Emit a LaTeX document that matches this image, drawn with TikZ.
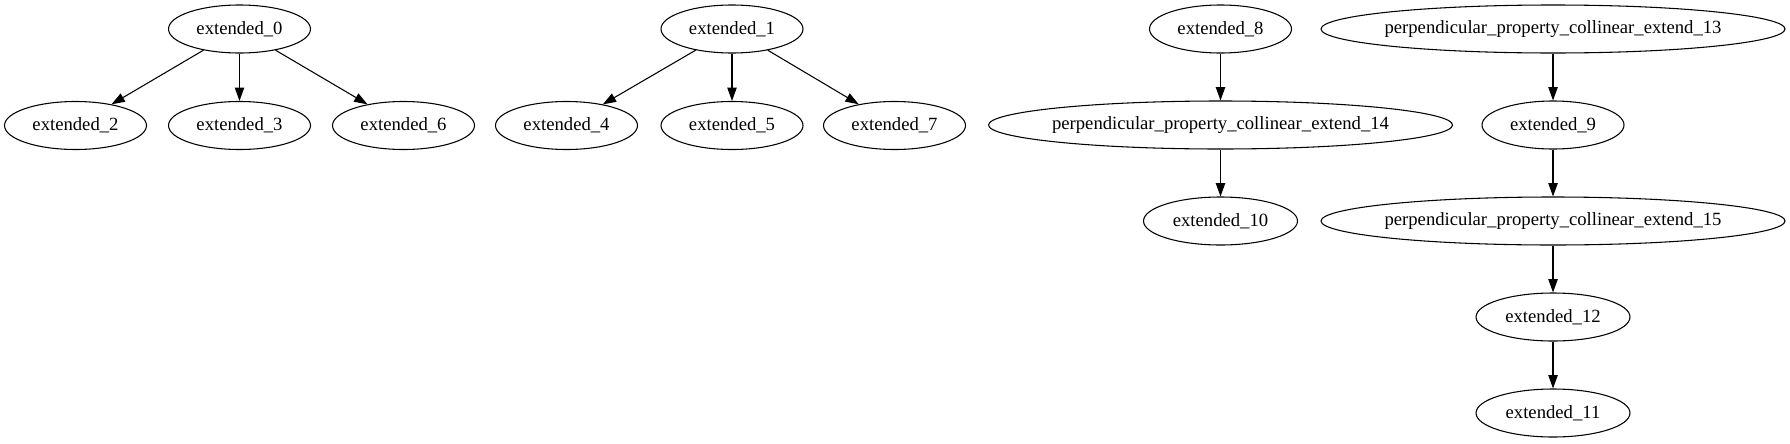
\documentclass[tikz,border=0pt]{standalone}
\usepackage{fontspec}
\setmainfont{Liberation Serif}
\usetikzlibrary{shapes.geometric,arrows.meta}
\tikzset{
  nd/.style={draw, ellipse, line width=0.8pt, inner sep=0pt, minimum height=36pt,
    font=\fontsize{14pt}{16pt}\selectfont},
  sm/.style={nd, minimum width=106.5pt},
  md/.style={nd, minimum width=115.5pt},
  lg/.style={nd, minimum width=348pt},
  edge/.style={line width=0.8pt, -{Triangle[length=10pt,width=7pt]}}
}
\newcommand{\lbl}[1]{\makebox[0pt]{#1}}
\begin{document}
\begin{tikzpicture}[x=0.75pt,y=-0.75pt]
\useasboundingbox (0,0) rectangle (1790,443);
% component 1
\node[sm] (e0) at (239.5,29) {\lbl{extended\_0}};
\node[sm] (e2) at (75.5,125.5) {\lbl{extended\_2}};
\node[sm] (e3) at (239.5,125.5) {\lbl{extended\_3}};
\node[sm] (e6) at (403.5,125.5) {\lbl{extended\_6}};
% component 2
\node[sm] (e1) at (732,29) {\lbl{extended\_1}};
\node[sm] (e4) at (566.5,125.5) {\lbl{extended\_4}};
\node[sm] (e5) at (732,125.5) {\lbl{extended\_5}};
\node[sm] (e7) at (894.5,125.5) {\lbl{extended\_7}};
% component 3
\node[sm] (e8) at (1220.5,29) {\lbl{extended\_8}};
\node[lg] (p14) at (1220.5,125) {\lbl{perpendicular\_property\_collinear\_extend\_14}};
\node[md] (e10) at (1220.5,221) {\lbl{extended\_10}};
% component 4
\node[lg] (p13) at (1553,29) {\lbl{perpendicular\_property\_collinear\_extend\_13}};
\node[sm] (e9) at (1553,125) {\lbl{extended\_9}};
\node[lg] (p15) at (1553,221) {\lbl{perpendicular\_property\_collinear\_extend\_15}};
\node[md] (e12) at (1553,317) {\lbl{extended\_12}};
\node[md] (e11) at (1553,413) {\lbl{extended\_11}};
% edges
\draw[edge] (e0) -- (e2);
\draw[edge] (e0) -- (e3);
\draw[edge] (e0) -- (e6);
\draw[edge] (e1) -- (e4);
\draw[edge] (e1) -- (e5);
\draw[edge] (e1) -- (e7);
\draw[edge] (e8) -- (p14);
\draw[edge] (p14) -- (e10);
\draw[edge] (p13) -- (e9);
\draw[edge] (e9) -- (p15);
\draw[edge] (p15) -- (e12);
\draw[edge] (e12) -- (e11);
\end{tikzpicture}
\end{document}
